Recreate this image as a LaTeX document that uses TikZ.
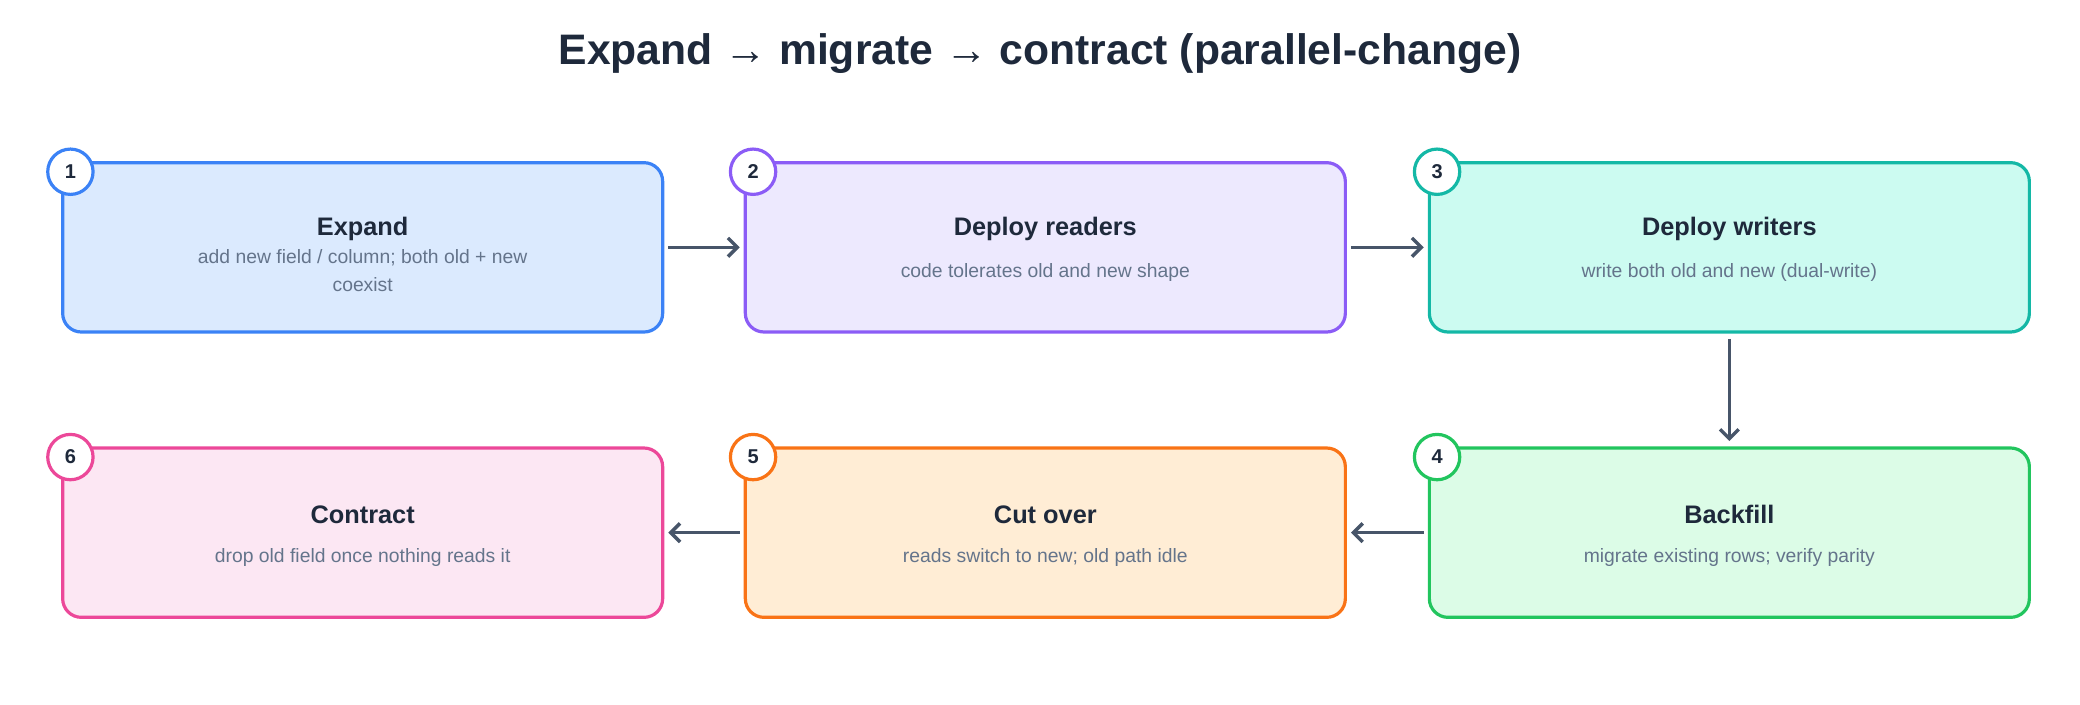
\documentclass[tikz,border=0pt]{standalone}
\usepackage{fontspec}
\setmainfont{Liberation Sans}
\usetikzlibrary{positioning,arrows.meta}
\definecolor{inkcolor}{HTML}{1E293B}
\definecolor{subcolor}{HTML}{64748B}
\definecolor{arrowcolor}{HTML}{475569}
\definecolor{bluedraw}{HTML}{3B82F6}\definecolor{bluefill}{HTML}{DBEAFE}
\definecolor{purpledraw}{HTML}{8B5CF6}\definecolor{purplefill}{HTML}{EDE9FE}
\definecolor{tealdraw}{HTML}{14B8A6}\definecolor{tealfill}{HTML}{CCFBF1}
\definecolor{greendraw}{HTML}{22C55E}\definecolor{greenfill}{HTML}{DCFCE7}
\definecolor{orangedraw}{HTML}{F97316}\definecolor{orangefill}{HTML}{FFEDD5}
\definecolor{pinkdraw}{HTML}{EC4899}\definecolor{pinkfill}{HTML}{FCE7F3}
\tikzset{
  stepbox/.style={draw, line width=2.4pt, rounded corners=14pt, minimum width=450pt, minimum height=127pt},
  stepnum/.style={circle, draw, fill=white, line width=2.4pt, minimum size=34pt, inner sep=0pt, text=inkcolor, font=\fontsize{15pt}{15pt}\selectfont\bfseries},
  steptitle/.style={text=inkcolor, font=\fontsize{19pt}{19pt}\selectfont\bfseries},
  stepsub/.style={text=subcolor, align=center, font=\fontsize{14.5pt}{21pt}\selectfont},
  flow/.style={draw=arrowcolor, line width=2.6pt, -{Straight Barb[length=7pt,width=14pt]}}
}
\begin{document}
\begin{tikzpicture}[x=1pt, y=-1pt]
\useasboundingbox (0,0) rectangle (1560,528);
\node[text=inkcolor, font=\fontsize{32pt}{32pt}\selectfont\bfseries] (title) at (780,40) {Expand → migrate → contract (parallel-change)};
% row 1
\node[stepbox, draw=bluedraw, fill=bluefill] (s1) at (272,185.5) {};
\node[stepbox, draw=purpledraw, fill=purplefill] (s2) at (784,185.5) {};
\node[stepbox, draw=tealdraw, fill=tealfill] (s3) at (1297,185.5) {};
% row 2
\node[stepbox, draw=greendraw, fill=greenfill] (s4) at (1297,399.5) {};
\node[stepbox, draw=orangedraw, fill=orangefill] (s5) at (784,399.5) {};
\node[stepbox, draw=pinkdraw, fill=pinkfill] (s6) at (272,399.5) {};
% numbers
\node[stepnum, draw=bluedraw] (n1) at (s1.north west) [xshift=7pt, yshift=-8pt] {1};
\node[stepnum, draw=purpledraw] (n2) at (s2.north west) [xshift=7pt, yshift=-8pt] {2};
\node[stepnum, draw=tealdraw] (n3) at (s3.north west) [xshift=7pt, yshift=-8pt] {3};
\node[stepnum, draw=greendraw] (n4) at (s4.north west) [xshift=7pt, yshift=-8pt] {4};
\node[stepnum, draw=orangedraw] (n5) at (s5.north west) [xshift=7pt, yshift=-8pt] {5};
\node[stepnum, draw=pinkdraw] (n6) at (s6.north west) [xshift=7pt, yshift=-8pt] {6};
% texts
\node[steptitle] (t1) at (272,172) {Expand};
\node[stepsub] (d1) at (272,203) {add new field / column; both old + new\\coexist};
\node[steptitle] (t2) at (784,172) {Deploy readers};
\node[stepsub] (d2) at (784,204) {code tolerates old and new shape};
\node[steptitle] (t3) at (1297,172) {Deploy writers};
\node[stepsub] (d3) at (1297,204) {write both old and new (dual-write)};
\node[steptitle] (t4) at (1297,386) {Backfill};
\node[stepsub] (d4) at (1297,418) {migrate existing rows; verify parity};
\node[steptitle] (t5) at (784,386) {Cut over};
\node[stepsub] (d5) at (784,418) {reads switch to new; old path idle};
\node[steptitle] (t6) at (272,386) {Contract};
\node[stepsub] (d6) at (272,418) {drop old field once nothing reads it};
% arrows
\draw[flow] ([xshift=3pt]s1.east) -- ([xshift=-3pt]s2.west);
\draw[flow] ([xshift=3pt]s2.east) -- ([xshift=-3pt]s3.west);
\draw[flow] ([yshift=-4pt]s3.south) -- ([yshift=4pt]s4.north);
\draw[flow] ([xshift=-3pt]s4.west) -- ([xshift=3pt]s5.east);
\draw[flow] ([xshift=-3pt]s5.west) -- ([xshift=3pt]s6.east);
\end{tikzpicture}
\end{document}
